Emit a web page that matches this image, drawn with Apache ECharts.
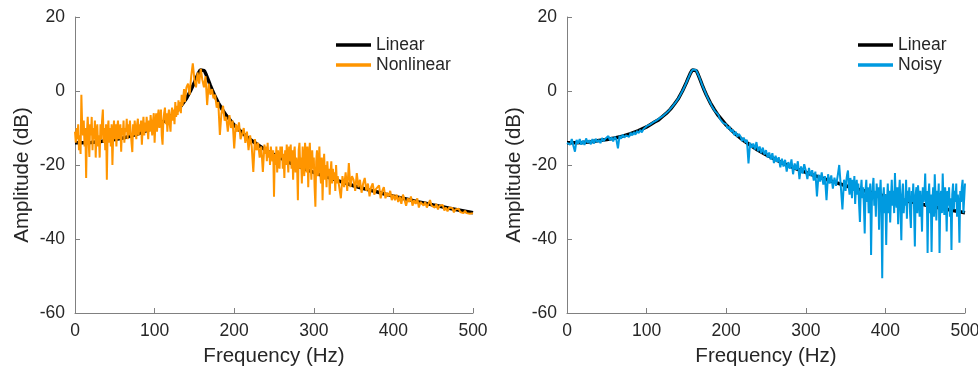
<!DOCTYPE html>
<html>
<head>
<meta charset="utf-8">
<script src="https://cdn.jsdelivr.net/npm/echarts@6/dist/echarts.min.js"></script>
<style>
html,body{margin:0;padding:0;background:#fff;}
#chart{width:978px;height:369px;}
</style>
</head>
<body>
<div id="chart"></div>
<script>
// Linear (model) response
const freqLin = [0,10,20,30,40,50,60,70,80,90,100,110,115,120,125,130,135,140,145,150,152.5,155,157.5,160,162.5,165,167.5,170,172.5,175,180,185,190,200,210,220,230,240,250,260,270,280,290,300,310,320,330,340,350,360,370,380,390,400,410,420,430,440,450,460,470,480,490,500];
const ampLin = [-14,-14,-13.9,-13.7,-13.4,-13.1,-12.7,-12.2,-11.5,-10.7,-9.7,-8.4,-7.8,-6.9,-6,-4.9,-3.5,-2,0,2.3,3.6,4.8,5.7,6,5.5,4.3,2.95,1.5,0.2,-1,-3.2,-5,-6.6,-9.2,-11.3,-13.1,-14.6,-16,-17.2,-18.3,-19.4,-20.3,-21.2,-22,-22.8,-23.5,-24.2,-24.9,-25.6,-26.2,-26.8,-27.3,-27.9,-28.4,-28.9,-29.4,-29.9,-30.3,-30.8,-31.2,-31.7,-32.1,-32.5,-32.9];

// Frequencies of the nonlinear spectrum: 1 Hz in the busy bands, 2 Hz elsewhere
const freqNonlinear = [];
for (let f = 0; f <= 140; f += 1) freqNonlinear.push(f);
for (let f = 142; f <= 238; f += 2) freqNonlinear.push(f);
for (let f = 239; f <= 330; f += 1) freqNonlinear.push(f);
for (let f = 332; f <= 500; f += 2) freqNonlinear.push(f);

// Nonlinear spectrum (orange)
const ampNonlinear = [
// 0..140 (1 Hz)
-11,-14,-10,-13,-9,-16,-12,-17,-1,-9,
-12,-8,-15,-10,-23.5,-11,-7,-13,-17.8,-9,
-12,-7,-16,-10,-13,-8,-18,-11,-9,-15,
-12,-18,-9,-13,-8,-5,-14,-10,-16,-9,
-24,-11,-8,-14,-10,-15,-9,-20,-12,-8,
-13,-9,-15,-10,-8,-13,-11,-9,-16.4,-10,
-12,-8,-14,-10,-11,-7.5,-13,-9,-12,-8,
-11,-14,-16.5,-9,-12,-8,-11,-13,-9,-7.5,
-12,-9,-11,-8,-14.5,-10,-7,-12,-8.5,-11,
-7,-10,-13,-8,-11,-6.5,-9,-12,-8,-6,
-14,-9,-6,-11,-7,-5,-10,-8,-5,-12,
-14.5,-8,-6,-4.5,-9,-6,-11,-7,-5,-9,
-11,-6,-4.5,-8,-5,-9,-3,-7,-4,-6.5,
-2.5,-5.5,-3,-6,-1,-4,-2,0.5,-3,-1,
1,
// 142..238 (2 Hz)
2,-1,4,7.5,
3,1,5,2,6,3,1,4,-3.8,2,-1,0.5,-2,-1,-4.5,-3,-11.9,-6,-4,-8,-7,-11,-6.5,-10,-8,
-15.5,-9,-11,-8.5,-13,-12.7,-10,-14,-11,-16,-12,-15,-21.9,-13,-16,-14,-18,-15,-21.9,-14.5,
// 239..330 (1 Hz)
-17,-15,-19,-14,-18,-16,-20,-15,-17,-19,-16,
-28.6,-17,-20,-15,-22,-16,-19,-21,-15,-18,
-15,-21,-17,-23.5,-16,-20,-14.5,-18,-22,-15,
-19,-14.5,-21,-16,-24,-17,-15,-22,-18,-20,
-29.5,-16,-14,-21,-18,-25,-15,-19,-23,-14,
-17,-22,-15,-26,-18,-14,-20,-24,-16,-21,
-18,-26,-31.3,-19,-16,-23,-20,-15,-22,-25,
-18,-29.5,-21,-17,-24,-20,-26,-19,-23,-21,
-28,-22,-19,-25,-21,-24,-22,-27,-20,-25,
-23,
// 332..500 (2 Hz)
-23,-29,-23,-26,-22,-27,-19.5,-26,-23,
-24,-27,-22.2,-26,-24,-27.5,-25,-23.5,-27,-25,-28.5,-26,-25,-28,-26.5,-27,-25.5,-29,-27,-26,-29,-27.5,-28.5,-27,-29.5,
-28,-29.5,-28,-30,-28.5,-30.5,-28,-29.5,-31,-29,-30,-28.5,-31,-29.5,-30.5,-29,-31.5,-30,-29.5,-31,-30,-31.5,-30.5,-29.5,-31,
-30.5,-31.5,-30.5,-32,-31,-31.5,-30.8,-32.3,-31.5,-32.5,-31.5,-32,-31.6,-32.8,-32,-32.5,-31.8,-32.7,-32.3,-33,-32.4,-33,-32.6,-33.2,-32.8,
-33
];

// Frequencies of the noisy spectrum: 2 Hz, then 1 Hz in the noisy high band
const freqNoisy = [];
for (let f = 0; f <= 348; f += 2) freqNoisy.push(f);
for (let f = 349; f <= 500; f += 1) freqNoisy.push(f);

// Noisy spectrum (blue)
const ampNoisy = [
// 0..348 (2 Hz)
-14,-13.5,-14.5,-13,-14.8,-16.4,-13.2,-14.2,-13,-14.5,-13.4,-14.6,-12.8,-14,-13.3,-14.4,-13,-14.2,-12.9,-13.8,-13.2,-14.1,-12.7,-13.6,-12.9,
-13.4,-12.2,-13.3,-12.5,-13.6,-12.4,-13.1,-15.5,-12.1,-12.9,-11.8,-12.6,-12,-11.5,-12.4,-11.3,-12,-11.1,-11.8,-10.8,-11.4,-10.5,-11.2,-10.3,-10.7,
-9.5,-9.6,-9.1,-9.0,-8.5,-8.5,-8.0,-7.9,-7.4,-7.2,-6.8,-6.6,-6.1,-5.8,-5.3,-4.9,-4.3,-3.8,-3.2,-2.6,-2.0,-1.2,-0.4,0.4,1.3,
2.3,3.3,4.3,5.2,5.8,6.0,5.7,4.8,3.8,2.7,1.5,0.5,-0.5,-1.5,-2.4,-3.2,-4.1,-4.6,-5.5,-6.0,-6.4,-7.5,-7.5,-8.6,-8.4,
-9.0,-10.2,-9.6,-11.0,-10.4,-11.9,-11.0,-12.4,-11.6,-12.3,-13.5,-12.6,-13.9,-13.2,-19.6,-14.0,-15.3,-14.2,-15.8,-13.8,-16.3,-15.0,-16.8,-15.3,-17.2,
-16.0,-18.0,-16.6,-18.5,-16.8,-19.5,-17.5,-19.2,-17.9,-20.6,-18.3,-20.4,-18.6,-21.8,-19.2,-21.0,-18.5,-22.5,-19.6,-21.3,-19.0,-23.8,-20.4,-22.3,-19.8,
-21.5,-23.8,-20.8,-23.0,-21.4,-24.2,-21.8,-28.5,-22.6,-24.5,-22.0,-25.3,-23.0,-29.5,-22.5,-25.0,-22.8,-26.4,-23.4,-25.6,-23.0,-20.0,-25.8,-32.0,-24.0,
// 349..500 (1 Hz)
-25,
-27,-24,-22.5,-21.5,-26,-28,-23.5,-25,-29,-24,
-27,-23,-30.5,-26,-24,-28,-25,-31,-35.4,-27,
-24,-29,-26,-31,-38.5,-27,-24,-30,-26,-33,
-28,-25,-44.3,-30,-26,-23.5,-31,-27,-34,-25,
-29,-26,-37.5,-28,-24,-32,-50.6,-29,-26,-33,
-28,-41.6,-30,-25,-33,-27,-35.5,-29,-24,-31,
-27,-33,-22.2,-29,-31.5,-26,-36,-28,-24,-32,
-40.3,-28,-25,-33,-29,-31,-24,-34.5,-27,-30,
-26,-33,-37,-27,-30,-25,-32,-42,-28,-26,
-33,-25.5,-29,-34,-27,-31,-38,-26,-30,-28,
-22.3,-31,-27,-43.8,-29,-25,-33,-28,-43.5,-30,
-26,-34,-22.5,-29,-35,-27,-31,-25,-43.8,-29,
-27,-33,-22.3,-30,-33.5,-26,-29,-38,-27,-31,
-26,-34,-29,-43,-28,-25,-32,-27,-30,-25,
-34,-28,-31,-41,-27,-30,-26,-24,-33,-29,
-25
];

const xTicks = [0,100,200,300,400,500];
const yTicks = [-60,-40,-20,0,20];

function pairs(xs, ys){ return xs.map((x,i)=>[x, ys[i]]); }

const FONT = '"Liberation Sans", Arial, Helvetica, sans-serif';
const AXC = '#808080';
const TXT = '#262626';

function xAx(gi){
  return {
    type:'value', gridIndex:gi, min:xTicks[0], max:xTicks[xTicks.length-1], interval:100,
    axisLine:{show:true, onZero:false, lineStyle:{color:AXC, width:1}},
    axisTick:{show:true, inside:true, length:5, lineStyle:{color:AXC}},
    axisLabel:{color:TXT, fontSize:17.5, margin:9, fontFamily:FONT},
    splitLine:{show:false},
    name:'Frequency (Hz)', nameLocation:'middle', nameGap:33,
    nameTextStyle:{color:TXT, fontSize:20.5, fontFamily:FONT}
  };
}
function yAx(gi){
  return {
    type:'value', gridIndex:gi, min:yTicks[0], max:yTicks[yTicks.length-1], interval:20,
    axisLine:{show:true, onZero:false, lineStyle:{color:AXC, width:1}},
    axisTick:{show:true, inside:true, length:5, lineStyle:{color:AXC}},
    axisLabel:{color:TXT, fontSize:17.5, margin:10, fontFamily:FONT},
    splitLine:{show:false},
    name:'Amplitude (dB)', nameLocation:'middle', nameGap:42,
    nameTextStyle:{color:TXT, fontSize:20.5, fontFamily:FONT, padding:[0,20,0,0]}
  };
}

const legendBase = {orient:'vertical', top:31, icon:'rect', itemWidth:35, itemHeight:3.5, itemGap:2,
  textStyle:{color:TXT, fontSize:17.5, fontFamily:FONT}, selectedMode:false};

const chart = echarts.init(document.getElementById('chart'), null, {renderer:'canvas'});
chart.setOption({
  animation:false,
  backgroundColor:'#ffffff',
  grid:[
    {left:75, top:17, width:398, height:296, outerBoundsMode:'none', containLabel:false},
    {left:567, top:17, width:398, height:296, outerBoundsMode:'none', containLabel:false}
  ],
  xAxis:[xAx(0), xAx(1)],
  yAxis:[yAx(0), yAx(1)],
  legend:[
    Object.assign({}, legendBase, {data:['Linear','Nonlinear'], left:331}),
    Object.assign({}, legendBase, {data:['Linear','Noisy'], left:853})
  ],
  series:[
    {name:'Linear', type:'line', xAxisIndex:0, yAxisIndex:0, data:pairs(freqLin, ampLin), showSymbol:false, symbol:'none',
     lineStyle:{color:'#000000', width:3.5}, itemStyle:{color:'#000000'}, z:2},
    {name:'Nonlinear', type:'line', xAxisIndex:0, yAxisIndex:0, data:pairs(freqNonlinear, ampNonlinear), showSymbol:false, symbol:'none',
     lineStyle:{color:'#ff9500', width:2}, itemStyle:{color:'#ff9500'}, z:3},
    {name:'Linear', type:'line', xAxisIndex:1, yAxisIndex:1, data:pairs(freqLin, ampLin), showSymbol:false, symbol:'none',
     lineStyle:{color:'#000000', width:3.5}, itemStyle:{color:'#000000'}, z:2},
    {name:'Noisy', type:'line', xAxisIndex:1, yAxisIndex:1, data:pairs(freqNoisy, ampNoisy), showSymbol:false, symbol:'none',
     lineStyle:{color:'#009ae0', width:2}, itemStyle:{color:'#009ae0'}, z:3}
  ]
});
</script>
</body>
</html>
